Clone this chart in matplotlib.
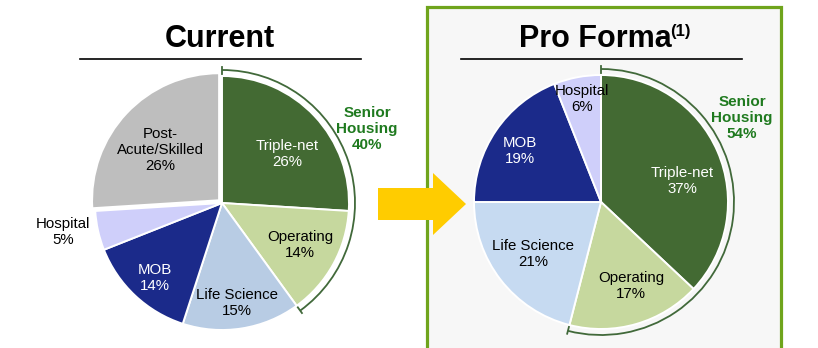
import matplotlib
matplotlib.use("Agg")
import numpy as np
import matplotlib.pyplot as plt
from matplotlib.patches import Arc, Rectangle, FancyArrow

plt.rcParams['font.family'] = ['Liberation Sans', 'DejaVu Sans']

W, H = 818, 348

# data
current_names = ["Triple-net", "Operating", "Life Science", "MOB", "Hospital", "Post-\nAcute/Skilled"]
current_values = [26, 14, 15, 14, 5, 26]
current_colors = ["#436a33", "#c6d89e", "#b8cce4", "#1b2a8a", "#cfcffa", "#bebebe"]

proforma_names = ["Triple-net", "Operating", "Life Science", "MOB", "Hospital"]
proforma_values = [37, 17, 21, 19, 6]
proforma_colors = ["#436a33", "#c6d89e", "#c6daf1", "#1b2a8a", "#cfcffa"]

senior_parts = 2  # Triple-net + Operating make up Senior Housing

# layout (pixel coords, y from top)
cur_center = (222, 203)
pro_center = (601, 202)
radius = 127
cur_label_pos = [(287, 154), (300, 245), (237, 303), (155, 278), (63, 232), (160, 150)]
cur_label_white = [True, False, False, True, False, False]
pro_label_pos = [(682, 181), (631, 286), (533, 254), (520, 151), (582, 99)]
pro_label_white = [True, False, False, True, False]
cur_senior_pos = (367, 129)
pro_senior_pos = (742, 118)

GREEN_TXT = "#1f7a1f"
ARC_COL = "#41693a"


def Y(py):
    return H - py


fig = plt.figure(figsize=(W / 100, H / 100), dpi=100)
ax = fig.add_axes([0, 0, 1, 1])

# right panel box
ax.add_patch(Rectangle((427, Y(360)), 354, 353, facecolor="#f7f7f7",
                       edgecolor="#6fa41c", linewidth=2.3, zorder=0))

# yellow arrow
ax.add_patch(FancyArrow(378, Y(204), 88, 0, width=32, head_width=62, head_length=33,
                        length_includes_head=True, color="#ffcc00", linewidth=0, zorder=1))


def draw_pie(center, values, colors, explode, names, pos, white):
    cx, cy = center[0], Y(center[1])
    ax.pie(values, colors=colors, startangle=90, counterclock=False, radius=radius,
           center=(cx, cy), explode=explode,
           wedgeprops=dict(edgecolor="white", linewidth=1.4))
    for name, v, p, w in zip(names, values, pos, white):
        ax.text(p[0], Y(p[1]), f"{name}\n{v}%", ha="center", va="center",
                multialignment="center", fontsize=10.8, linespacing=1.2,
                color="white" if w else "black", zorder=5)
    # senior housing bracket
    total = sum(values[:senior_parts])
    t1 = 90 - 360 * total / 100
    t2 = 90
    ra = radius + 6
    ax.add_patch(Arc((cx, cy), 2 * ra, 2 * ra, theta1=t1, theta2=t2,
                     color=ARC_COL, linewidth=1.3, zorder=4))
    for t in (t1, t2):
        a = np.radians(t)
        ax.plot([cx + (ra - 4) * np.cos(a), cx + (ra + 3) * np.cos(a)],
                [cy + (ra - 4) * np.sin(a), cy + (ra + 3) * np.sin(a)],
                color=ARC_COL, linewidth=1.3, zorder=4)
    return total


cur_total = draw_pie(cur_center, current_values, current_colors, [0, 0, 0, 0, 0, 4],
                     current_names, cur_label_pos, cur_label_white)
pro_total = draw_pie(pro_center, proforma_values, proforma_colors, None,
                     proforma_names, pro_label_pos, pro_label_white)

ax.text(cur_senior_pos[0], Y(cur_senior_pos[1]), f"Senior\nHousing\n{cur_total}%",
        ha="center", va="center", multialignment="center", fontsize=11,
        fontweight="bold", color=GREEN_TXT, linespacing=1.2)
ax.text(pro_senior_pos[0], Y(pro_senior_pos[1]), f"Senior\nHousing\n{pro_total}%",
        ha="center", va="center", multialignment="center", fontsize=11,
        fontweight="bold", color=GREEN_TXT, linespacing=1.2)

# titles
ax.text(220, Y(47), "Current", ha="center", va="baseline", fontsize=22, fontweight="bold")
ax.plot([80, 361], [Y(59), Y(59)], color="black", linewidth=1.2)
ax.text(672, Y(47), "Pro Forma", ha="right", va="baseline", fontsize=22, fontweight="bold")
ax.text(670, Y(36), "(1)", ha="left", va="baseline", fontsize=12, fontweight="bold")
ax.plot([461, 742], [Y(59), Y(59)], color="black", linewidth=1.2)

ax.set_xlim(0, W)
ax.set_ylim(0, H)
ax.set_aspect("auto")
ax.axis("off")

fig.savefig("out.png", dpi=100)
